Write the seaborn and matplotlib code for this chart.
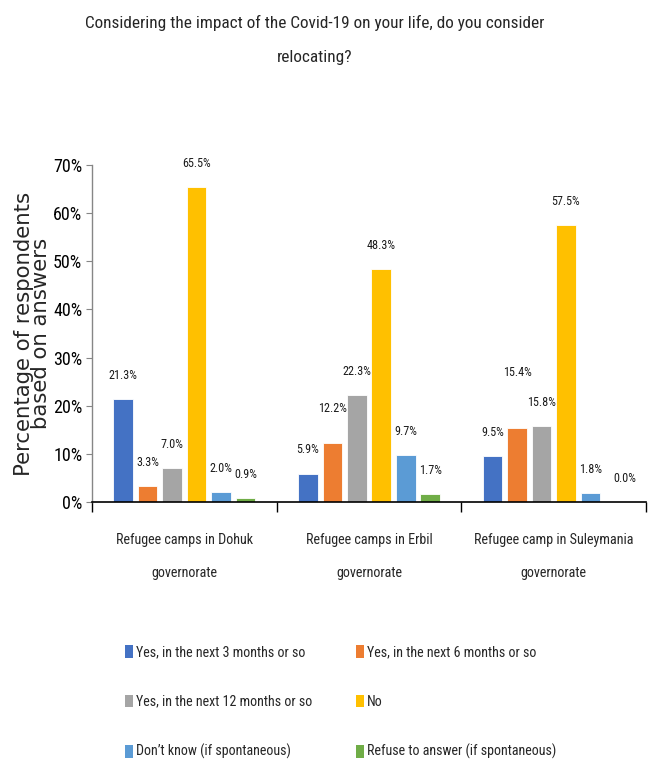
import matplotlib
matplotlib.use("Agg")
import matplotlib.pyplot as plt
import matplotlib.ticker as mticker
from matplotlib.patches import Patch
import seaborn as sns
import pandas as pd

# Survey results (percent of respondents)
regions = [
    "Refugee camps in Dohuk\ngovernorate",
    "Refugee camps in Erbil\ngovernorate",
    "Refugee camp in Suleymania\ngovernorate",
]
answers = [
    "Yes, in the next 3 months or so",
    "Yes, in the next 6 months or so",
    "Yes, in the next 12 months or so",
    "No",
    "Don\u2019t know (if spontaneous)",
    "Refuse to answer (if spontaneous)",
]
dohuk = [21.3, 3.3, 7.0, 65.5, 2.0, 0.9]
erbil = [5.9, 12.2, 22.3, 48.3, 9.7, 1.7]
suleymania = [9.5, 15.4, 15.8, 57.5, 1.8, 0.0]

colors = ["#4472C4", "#ED7D31", "#A5A5A5", "#FFC000", "#5B9BD5", "#70AD47"]

rows = []
for region, vals in zip(regions, [dohuk, erbil, suleymania]):
    for ans, v in zip(answers, vals):
        rows.append({"region": region, "answer": ans, "pct": v})
df = pd.DataFrame(rows)

sns.set_style("white")
plt.rcParams["font.family"] = ["Roboto Condensed", "Lato", "DejaVu Sans"]

fig = plt.figure(figsize=(6.53, 7.65), dpi=100)
ax = fig.add_axes([0.1409, 0.3438, 0.8484, 0.4405])

sns.barplot(data=df, x="region", y="pct", hue="answer", hue_order=answers,
            order=regions, palette=colors, saturation=1, width=0.795, gap=0.2,
            edgecolor="white", linewidth=0.6, ax=ax, legend=False)

# value labels; a few are nudged to stay clear of neighbours
label_offsets = {(1, 1): (0, 25), (2, 1): (0, 40), (2, 5): (7, 17)}
for hi, cont in enumerate(ax.containers):
    for ri, bar in enumerate(cont):
        h = bar.get_height()
        off = label_offsets.get((ri, hi), (0, 17))
        ax.annotate(f"{h:.1f}%", (bar.get_x() + bar.get_width() / 2, h),
                    xytext=off, textcoords="offset points",
                    ha="center", va="center", fontsize=8.7, color="#1a1a1a")

ax.set_ylim(0, 70)
ax.set_xlim(-0.5, 2.5)
ax.yaxis.set_major_locator(mticker.MultipleLocator(10))
ax.yaxis.set_major_formatter(mticker.FuncFormatter(lambda v, p: f"{v:.0f}%"))
ax.tick_params(axis="y", labelsize=13, length=4, width=0.8, color="#868686",
               direction="out", left=True, pad=3, labelcolor="black")
ax.set_xticks(range(3))
ax.set_xticklabels(regions, fontsize=10.2, linespacing=2.74)
ax.set_xticks([-0.5, 0.5, 1.5, 2.5], minor=True)
ax.tick_params(axis="x", which="major", length=0, pad=22.5)
ax.tick_params(axis="x", which="minor", length=7, width=1, color="black",
               direction="out", bottom=True)

for s in ["top", "right"]:
    ax.spines[s].set_visible(False)
ax.spines["left"].set_color("#868686")
ax.spines["left"].set_linewidth(1.0)
ax.spines["bottom"].set_color("black")
ax.spines["bottom"].set_linewidth(1.2)

ax.set_xlabel("")
ax.set_ylabel("Percentage of respondents\nbased on answers", family="DejaVu Sans",
              fontsize=15.3, linespacing=0.8)
ax.yaxis.set_label_coords(-0.0745, 0.5)

fig.text(0.482, 0.9477, "Considering the impact of the Covid-19 on your life, do you consider\nrelocating?",
         ha="center", va="center", fontsize=12.4, linespacing=2.62)

# legend: two columns, filled column-wise
order = [0, 2, 4, 1, 3, 5]
handles = [Patch(facecolor=colors[i], edgecolor="none") for i in order]
labels = [answers[i] for i in order]
fig.legend(handles, labels, ncol=2, loc="upper left",
           bbox_to_anchor=(0.1914, 0.1569), frameon=False, fontsize=10.1,
           handlelength=0.57, handleheight=1.0, handletextpad=0.21,
           labelspacing=2.53, columnspacing=3.14, borderpad=0, borderaxespad=0)

fig.savefig("out.png", dpi=100)
